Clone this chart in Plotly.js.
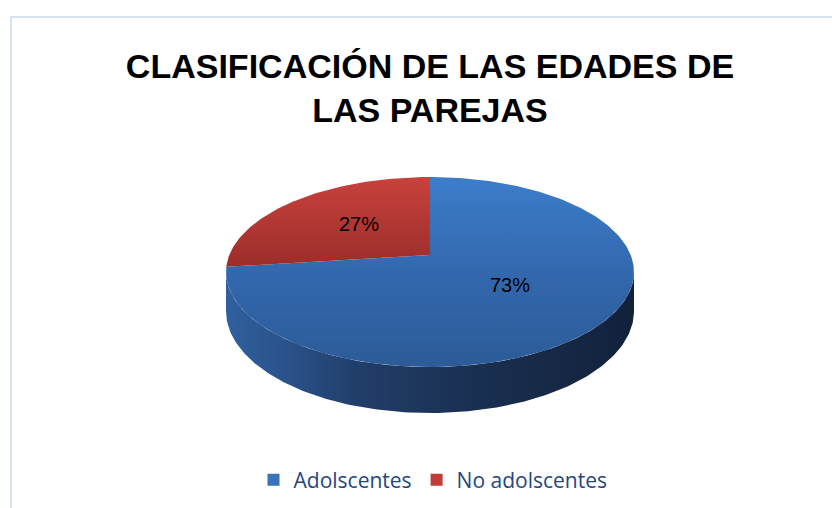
<!DOCTYPE html>
<html>
<head>
<meta charset="utf-8">
<script src="https://cdn.plot.ly/plotly-3.0.1.min.js"></script>
<style>
  html, body { margin: 0; padding: 0; background: #ffffff; }
  #chart { width: 832px; height: 508px; }
</style>
</head>
<body>
<div id="chart"></div>
<script>
// ---- data ----
const categories = ['Adolscentes', 'No adolscentes'];
const values = [73, 27];
const chartTitle = 'CLASIFICACIÓN DE LAS EDADES DE<br>LAS PAREJAS';

// ---- styles ----
const topGradients = [
  [[0, '#3c7dca'], [0.5, '#3368ae'], [1, '#2c5b97']],
  [[0, '#c9423d'], [1, '#9b2d2a']]
];
const sideGradient = [[0, '#2f609e'], [0.15, '#2a528a'], [0.32, '#213e69'], [0.6, '#1a3052'], [1, '#12213a']];
const legendColors = ['#3a73ba', '#c23b38'];

// 3D-perspective projection of a unit circle (u right, v towards viewer)
const P = { cx: 430, cy: 255, rx: 200.7, a: 46.3, c: -0.179, depth: 37.8 };
function proj(u, v, down) {
  const w = 1 + P.c * v;
  return [P.cx + P.rx * u / w, (P.a * v + P.cy) / w + (down ? P.depth / w : 0)];
}
function pt(thetaDeg, r, down) {
  const t = thetaDeg * Math.PI / 180;
  return proj(r * Math.sin(t), -r * Math.cos(t), down);
}

const total = values.reduce((s, v) => s + v, 0);
const traces = [];
const sideTraces = [];
const topTraces = [];
const labelX = [], labelY = [], labelT = [];

// silhouette angles (front visible range of the wall)
const thR = Math.acos(P.c) * 180 / Math.PI;
const thL = 360 - thR;

let start = 0;
values.forEach((val, i) => {
  const span = val / total * 360;
  const t0 = start, t1 = start + span;
  // top face
  const xs = [], ys = [];
  let p = pt(0, 0, false); xs.push(p[0]); ys.push(p[1]);
  const n = Math.max(2, Math.ceil(span));
  for (let k = 0; k <= n; k++) {
    p = pt(t0 + span * k / n, 1, false); xs.push(p[0]); ys.push(p[1]);
  }
  xs.push(xs[0]); ys.push(ys[0]);
  const yTop = Math.min(...ys), yBot = Math.max(...ys);
  topTraces.push({
    type: 'scatter', mode: 'lines', x: xs, y: ys, fill: 'toself',
    line: { width: 0, color: 'rgba(0,0,0,0)' },
    fillgradient: { type: 'vertical', colorscale: topGradients[i], start: yTop, stop: yBot },
    hoverinfo: 'skip', showlegend: false
  });
  // side wall (visible front part)
  const s0 = Math.max(t0, thR), s1 = Math.min(t1, thL);
  if (s1 > s0) {
    const sx = [], sy = [];
    const m = Math.ceil(s1 - s0);
    for (let k = 0; k <= m; k++) { const q = pt(s0 + (s1 - s0) * k / m, 1, false); sx.push(q[0]); sy.push(q[1]); }
    for (let k = m; k >= 0; k--) { const q = pt(s0 + (s1 - s0) * k / m, 1, true); sx.push(q[0]); sy.push(q[1]); }
    sx.push(sx[0]); sy.push(sy[0]);
    sideTraces.push({
      type: 'scatter', mode: 'lines', x: sx, y: sy, fill: 'toself',
      line: { width: 0, color: 'rgba(0,0,0,0)' },
      fillgradient: { type: 'horizontal', colorscale: sideGradient, start: Math.min(...sx), stop: Math.max(...sx) },
      hoverinfo: 'skip', showlegend: false
    });
  }
  // label position
  const lp = pt((t0 + t1) / 2, 0.5, false);
  labelX.push(lp[0]); labelY.push(lp[1]);
  labelT.push(Math.round(val / total * 100) + '%');
  start = t1;
});

traces.push(...sideTraces, ...topTraces);
traces.push({
  type: 'scatter', mode: 'text', x: labelX, y: labelY, text: labelT,
  textposition: 'middle center',
  textfont: { family: 'Liberation Sans, Arial, sans-serif', size: 20, color: '#000000' },
  hoverinfo: 'skip', showlegend: false
});
categories.forEach((name, i) => {
  traces.push({
    type: 'scatter', mode: 'markers', x: [null], y: [null], name: name,
    marker: { symbol: 'square', size: 12, color: legendColors[i] },
    showlegend: true
  });
});

const layout = {
  width: 832, height: 508,
  margin: { l: 0, r: 0, t: 0, b: 0 },
  paper_bgcolor: '#ffffff', plot_bgcolor: '#ffffff',
  xaxis: { range: [0, 832], visible: false, fixedrange: true },
  yaxis: { range: [508, 0], visible: false, fixedrange: true },
  title: {
    text: chartTitle,
    x: 430 / 832, xanchor: 'center',
    y: 1 - 78 / 508, yanchor: 'top',
    font: { family: 'Liberation Sans, Arial, sans-serif', size: 34, color: '#000000', weight: 'bold' }
  },
  showlegend: true,
  legend: {
    orientation: 'h', x: 433 / 832, xanchor: 'center', y: 1 - 480 / 508, yanchor: 'middle',
    itemwidth: 30,
    font: { family: 'Open Sans, sans-serif', size: 21, color: '#26467e' },
    bgcolor: 'rgba(0,0,0,0)'
  },
  shapes: [{
    type: 'rect', xref: 'x', yref: 'y', x0: 11, y0: 17, x1: 900, y1: 600,
    line: { color: '#d6e1f2', width: 2 }, layer: 'below'
  }]
};

Plotly.newPlot('chart', traces, layout, { displayModeBar: false, staticPlot: true });
</script>
</body>
</html>
